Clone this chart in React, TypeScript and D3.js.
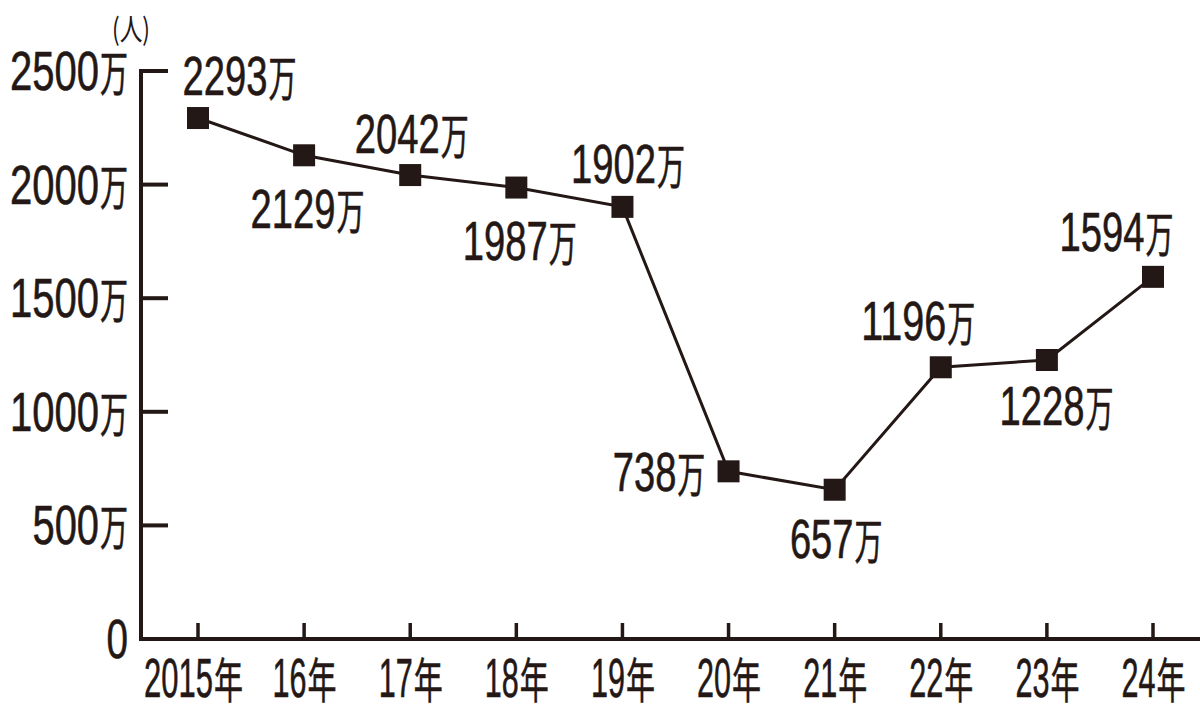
import React from "react";
import * as d3 from "d3";

const years = ["2015", "16", "17", "18", "19", "20", "21", "22", "23", "24"];
const visitors = [2293, 2129, 2042, 1987, 1902, 738, 657, 1196, 1228, 1594];
const yTicks = [0, 500, 1000, 1500, 2000, 2500];
const unitLabel = "(人)";
const valueSuffix = "万";
const yearSuffix = "年";

// label placement offsets (relative to marker): [dx of label center, dy of baseline]
const labelOffsets: [number, number][] = [
  [42, -23], [4, 73], [2, -22], [4, 72], [6, -24],
  [-69, 20], [2, 68], [-22, -27], [10, 65], [-36, -26],
];

const INK = "#231815";
const DIGIT_FONT = "'Liberation Sans', Arial, sans-serif";
const CJK_FONT = "'Noto Sans CJK JP', sans-serif";
const FS = 55;
const CJK_FS = 48;

function Label({ text, suffix, x, y, anchor, dw, cw }: { text: string; suffix: string; x: number; y: number; anchor: "start" | "middle" | "end"; dw: number; cw: number }) {
  const dLen = text.length * dw;
  const w = dLen + (suffix ? cw : 0);
  const x0 = anchor === "start" ? x : anchor === "middle" ? x - w / 2 : x - w;
  return (
    <text x={x0} y={y} fill={INK} stroke={INK} strokeWidth={0.6}>
      <tspan fontFamily={DIGIT_FONT} fontSize={FS} textLength={dLen - 1} lengthAdjust="spacingAndGlyphs">
        {text}
      </tspan>
      {suffix && (
        <tspan x={x0 + dLen} dy={1} fontFamily={CJK_FONT} fontSize={CJK_FS} textLength={cw - 1} lengthAdjust="spacingAndGlyphs">
          {suffix}
        </tspan>
      )}
    </text>
  );
}

export default function App() {
  const W = 1200, H = 713;
  const x = d3.scalePoint<string>().domain(years).range([198, 1153]);
  const y = d3.scaleLinear().domain([0, 2500]).range([639, 71]);
  const axisX = 141;
  const line = d3.line<number>().x((_, i) => x(years[i])!).y((d) => y(d));
  const M = 22;

  return (
    <svg width={W} height={H} style={{ position: "absolute", left: 0, top: 0, background: "#fff" }}>
      <rect width={W} height={H} fill="#fff" />
      {/* axes */}
      <line x1={axisX} x2={axisX} y1={y(2500) - 2} y2={y(0) + 2} stroke={INK} strokeWidth={4} />
      <line x1={axisX - 2} x2={W} y1={y(0)} y2={y(0)} stroke={INK} strokeWidth={4} />
      {yTicks.slice(1).map((t) => (
        <line key={t} x1={axisX} x2={168} y1={y(t)} y2={y(t)} stroke={INK} strokeWidth={4} />
      ))}
      {years.map((yr) => (
        <line key={yr} x1={x(yr)} x2={x(yr)} y1={y(0)} y2={y(0) - 16} stroke={INK} strokeWidth={3.5} />
      ))}
      {/* y tick labels */}
      {yTicks.map((t) => (
        <Label key={t} text={String(t)} suffix={t === 0 ? "" : valueSuffix} x={129} y={y(t) + 19} anchor="end" dw={22.5} cw={29} />
      ))}
      {/* unit */}
      <text x={112} y={40} fontFamily={CJK_FONT} fontSize={30} fill={INK} textLength={38} lengthAdjust="spacingAndGlyphs">
        {unitLabel}
      </text>
      {/* x tick labels */}
      {years.map((yr, i) => (
        <Label key={yr} text={yr} suffix={yearSuffix} x={x(yr)! + (i === 0 ? -4 : 1)} y={697} anchor="middle" dw={17.5} cw={30} />
      ))}
      {/* line */}
      <path d={line(visitors) || ""} fill="none" stroke={INK} strokeWidth={3} />
      {visitors.map((v, i) => (
        <rect key={i} x={x(years[i])! - M / 2} y={y(v) - M / 2} width={M} height={M} fill={INK} />
      ))}
      {/* value labels */}
      {visitors.map((v, i) => (
        <Label
          key={i}
          text={String(v)}
          suffix={valueSuffix}
          x={x(years[i])! + labelOffsets[i][0]}
          y={y(v) + labelOffsets[i][1]}
          anchor="middle"
          dw={21.5}
          cw={29}
        />
      ))}
    </svg>
  );
}
